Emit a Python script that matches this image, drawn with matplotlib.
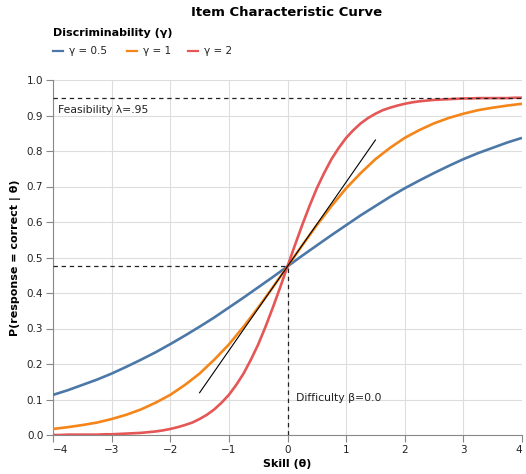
import numpy as np
import matplotlib
matplotlib.use("Agg")
import matplotlib.pyplot as plt
from matplotlib.lines import Line2D

theta = [-4.0 + 0.25 * i for i in range(33)]
theta_fine = [-4.0 + 0.125 * i for i in range(65)]

p_g05 = [0.113, 0.126, 0.141, 0.156, 0.173, 0.192, 0.212, 0.233, 0.256, 0.280, 0.305,
         0.331, 0.359, 0.387, 0.416, 0.445, 0.475, 0.505, 0.534, 0.563, 0.591, 0.619,
         0.645, 0.671, 0.695, 0.717, 0.738, 0.758, 0.777, 0.794, 0.809, 0.824, 0.837]
p_g1 = [0.017, 0.022, 0.028, 0.035, 0.045, 0.057, 0.072, 0.091, 0.113, 0.141, 0.173,
        0.212, 0.255, 0.305, 0.359, 0.416, 0.475, 0.534, 0.591, 0.645, 0.695, 0.738,
        0.777, 0.809, 0.837, 0.859, 0.878, 0.893, 0.905, 0.915, 0.922, 0.928, 0.933]
p_g2 = [0.000, 0.000, 0.001, 0.001, 0.001, 0.001, 0.001, 0.002, 0.002, 0.003, 0.004,
        0.005, 0.006, 0.008, 0.010, 0.013, 0.017, 0.022, 0.028, 0.035, 0.045, 0.057,
        0.072, 0.091, 0.113, 0.141, 0.173, 0.212, 0.255, 0.305, 0.359, 0.416, 0.475,
        0.534, 0.591, 0.645, 0.695, 0.738, 0.777, 0.809, 0.837, 0.859, 0.878, 0.893,
        0.905, 0.915, 0.922, 0.928, 0.933, 0.937, 0.940, 0.942, 0.944, 0.945, 0.946,
        0.947, 0.948, 0.948, 0.949, 0.949, 0.949, 0.949, 0.949, 0.950, 0.950]

series_labels = ["γ = 0.5", "γ = 1", "γ = 2"]
series_theta = [theta, theta, theta_fine]
series_values = [p_g05, p_g1, p_g2]
colors = ["#4c78a8", "#f58518", "#e45756"]

feasibility = 0.95
difficulty = 0.0
p_at_difficulty = 0.475
tangent_theta = [-1.5, 1.5]
tangent_p = [0.119, 0.831]

x_ticks = [-4, -3, -2, -1, 0, 1, 2, 3, 4]
y_ticks = [0.0, 0.1, 0.2, 0.3, 0.4, 0.5, 0.6, 0.7, 0.8, 0.9, 1.0]

W, H = 526, 474
fig = plt.figure(figsize=(W / 100, H / 100), dpi=100)
ax = fig.add_axes([53 / W, 1 - 435 / H, (522 - 53) / W, (435 - 80) / H])

grid_c = "#dddddd"
axis_c = "#888888"

ax.set_xlim(-4, 4)
ax.set_ylim(0, 1)
ax.set_xticks(x_ticks)
ax.set_yticks(y_ticks)
ax.grid(True, color=grid_c, lw=0.8)
ax.set_axisbelow(True)
for s in ["top", "right"]:
    ax.spines[s].set_visible(False)
for s in ["left", "bottom"]:
    ax.spines[s].set_color(axis_c)
    ax.spines[s].set_linewidth(0.8)
ax.tick_params(colors=axis_c, length=5, width=0.8, labelcolor="#222222", labelsize=7.5, pad=2)
ax.set_yticklabels([f"{v:.1f}" for v in y_ticks])
xl = ax.set_xticklabels([str(v).replace("-", "−") for v in x_ticks])
xl[0].set_ha("left")
xl[-1].set_ha("right")

for th, vals, lab, c in zip(series_theta, series_values, series_labels, colors):
    ax.plot(th, vals, color=c, lw=1.9, label=lab, solid_capstyle="butt",
            solid_joinstyle="round", zorder=3)

ax.plot(tangent_theta, tangent_p, color="black", lw=0.8, zorder=4)

dash = (0, (3.5, 3))
ax.plot([-4, 4], [feasibility, feasibility], color="#222222", lw=0.9, ls=dash, zorder=5)
ax.plot([-4, difficulty], [p_at_difficulty, p_at_difficulty], color="#222222", lw=0.9, ls=dash, zorder=5)
ax.plot([difficulty, difficulty], [0, p_at_difficulty], color="#222222", lw=0.9, ls=dash, zorder=5)

ax.text(-3.92, 0.915, "Feasibility λ=.95", fontsize=7.8, color="#222222", va="center", ha="left")
ax.text(0.15, 0.103, "Difficulty β=0.0", fontsize=7.8, color="#222222", va="center", ha="left")

ax.set_xlabel("Skill (θ)", fontsize=8, fontweight="bold", labelpad=3)
ax.set_ylabel("P(response = correct | θ)", fontsize=8, fontweight="bold", labelpad=4)

fig.text(287 / W, 1 - 13 / H, "Item Characteristic Curve", fontsize=9.5, fontweight="bold",
         ha="center", va="center")
fig.text(53 / W, 1 - 33 / H, "Discriminability (γ)", fontsize=8, fontweight="bold",
         ha="left", va="center")

leg_y = 1 - 51 / H
sym_x = [53, 127, 188]
for sx, lab, c in zip(sym_x, series_labels, colors):
    fig.add_artist(Line2D([sx / W, (sx + 10) / W], [leg_y, leg_y], color=c, lw=1.6,
                          transform=fig.transFigure))
    fig.text((sx + 16) / W, leg_y, lab, fontsize=7.5, ha="left", va="center", color="#222222")

fig.savefig("out.png", dpi=100)
